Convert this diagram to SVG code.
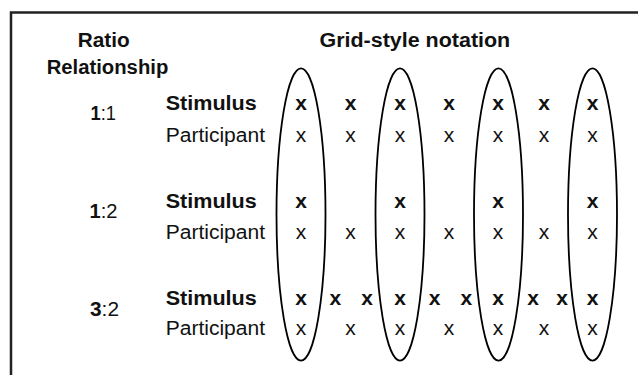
<svg xmlns="http://www.w3.org/2000/svg" width="638" height="375" viewBox="0 0 638 375">
  <style>
    text { font-family: "Liberation Sans", Arial, sans-serif; fill: #111; }
    .hdr { font-size: 19.5px; font-weight: bold; }
    .lbl { font-size: 19.5px; }
    .b { font-weight: bold; }
    .xb { font-size: 21px; font-weight: bold; text-anchor: middle; }
    .xr { font-size: 21px; text-anchor: middle; }
    .oval { fill: none; stroke: #000; stroke-width: 1.8; }
    .frame { fill: none; stroke: #222; stroke-width: 2.5; }
  </style>
  <rect width="638" height="375" fill="#fff"/>
  <g id="frame">
    <polyline class="frame" points="11,375 11,12.5 638,12.5"/>
  </g>
  <g id="headers">
    <text class="hdr" x="77.7" y="46.5" textLength="52" lengthAdjust="spacingAndGlyphs">Ratio</text>
    <text class="hdr" x="46.7" y="74" textLength="121.6" lengthAdjust="spacingAndGlyphs">Relationship</text>
    <text class="hdr" x="319.5" y="46.5" textLength="190.7" lengthAdjust="spacingAndGlyphs">Grid-style notation</text>
  </g>
  <g id="connectors">
    <ellipse class="oval" cx="301" cy="214.5" rx="24.5" ry="146.2"/>
    <ellipse class="oval" cx="400" cy="214.5" rx="24.5" ry="146.2"/>
    <ellipse class="oval" cx="498.5" cy="214.5" rx="24.5" ry="146.2"/>
    <ellipse class="oval" cx="592.5" cy="214.5" rx="24.5" ry="146.2"/>
  </g>
  <g id="row-1-1">
    <text class="lbl" x="90.5" y="120" textLength="25.5" lengthAdjust="spacingAndGlyphs"><tspan class="b">1</tspan>:1</text>
    <text class="lbl b" x="165.7" y="110" textLength="91" lengthAdjust="spacingAndGlyphs">Stimulus</text>
    <text class="lbl" x="165.7" y="141.5" textLength="99.3" lengthAdjust="spacingAndGlyphs">Participant</text>
    <text class="xb" x="301" y="110">x</text>
    <text class="xb" x="350.5" y="110">x</text>
    <text class="xb" x="400" y="110">x</text>
    <text class="xb" x="449" y="110">x</text>
    <text class="xb" x="498" y="110">x</text>
    <text class="xb" x="544" y="110">x</text>
    <text class="xb" x="592.5" y="110">x</text>
    <text class="xr" x="301" y="141.5">x</text>
    <text class="xr" x="350.5" y="141.5">x</text>
    <text class="xr" x="400" y="141.5">x</text>
    <text class="xr" x="449" y="141.5">x</text>
    <text class="xr" x="498" y="141.5">x</text>
    <text class="xr" x="544" y="141.5">x</text>
    <text class="xr" x="592.5" y="141.5">x</text>
  </g>
  <g id="row-1-2">
    <text class="lbl" x="89.5" y="218.3" textLength="28" lengthAdjust="spacingAndGlyphs"><tspan class="b">1</tspan>:2</text>
    <text class="lbl b" x="165.7" y="207.5" textLength="91" lengthAdjust="spacingAndGlyphs">Stimulus</text>
    <text class="lbl" x="165.7" y="238.5" textLength="99.3" lengthAdjust="spacingAndGlyphs">Participant</text>
    <text class="xb" x="301" y="207.5">x</text>
    <text class="xb" x="400" y="207.5">x</text>
    <text class="xb" x="498" y="207.5">x</text>
    <text class="xb" x="592.5" y="207.5">x</text>
    <text class="xr" x="301" y="238.5">x</text>
    <text class="xr" x="350.5" y="238.5">x</text>
    <text class="xr" x="400" y="238.5">x</text>
    <text class="xr" x="449" y="238.5">x</text>
    <text class="xr" x="498" y="238.5">x</text>
    <text class="xr" x="544" y="238.5">x</text>
    <text class="xr" x="592.5" y="238.5">x</text>
  </g>
  <g id="row-3-2">
    <text class="lbl" x="90" y="315.7" textLength="29" lengthAdjust="spacingAndGlyphs"><tspan class="b">3</tspan>:2</text>
    <text class="lbl b" x="165.7" y="304.5" textLength="91" lengthAdjust="spacingAndGlyphs">Stimulus</text>
    <text class="lbl" x="165.7" y="335" textLength="99.3" lengthAdjust="spacingAndGlyphs">Participant</text>
    <text class="xb" x="301" y="304.5">x</text>
    <text class="xb" x="335.3" y="304.5">x</text>
    <text class="xb" x="367" y="304.5">x</text>
    <text class="xb" x="400" y="304.5">x</text>
    <text class="xb" x="434.7" y="304.5">x</text>
    <text class="xb" x="466.3" y="304.5">x</text>
    <text class="xb" x="498" y="304.5">x</text>
    <text class="xb" x="533" y="304.5">x</text>
    <text class="xb" x="562" y="304.5">x</text>
    <text class="xb" x="592.5" y="304.5">x</text>
    <text class="xr" x="301" y="335">x</text>
    <text class="xr" x="350.5" y="335">x</text>
    <text class="xr" x="400" y="335">x</text>
    <text class="xr" x="449" y="335">x</text>
    <text class="xr" x="498" y="335">x</text>
    <text class="xr" x="544" y="335">x</text>
    <text class="xr" x="592.5" y="335">x</text>
  </g>
</svg>
